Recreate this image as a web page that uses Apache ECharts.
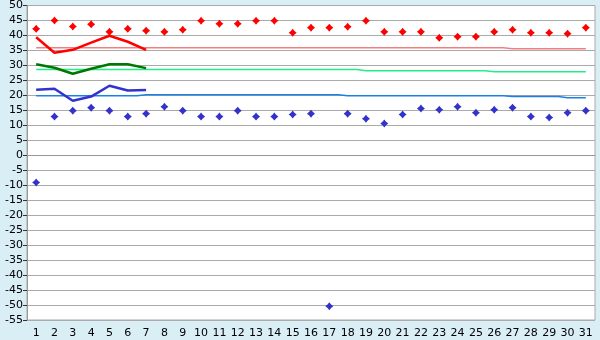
<!DOCTYPE html>
<html>
<head>
<meta charset="utf-8">
<script src="https://cdn.jsdelivr.net/npm/echarts@6/dist/echarts.min.js"></script>
<style>
  html, body { margin: 0; padding: 0; background: #daeef6; }
  #chart { width: 600px; height: 340px; }
</style>
</head>
<body>
<div id="chart"></div>
<script>
const days = Array.from({ length: 31 }, (_, i) => String(i + 1));

// daily extremes (diamonds)
const maxPoints = [42.2, 45, 43, 43.7, 41.2, 42.2, 41.6, 41.2, 41.9, 44.9, 43.9, 43.9, 44.9, 44.9, 40.9, 42.6,
  42.6, 42.9, 44.9, 41.2, 41.2, 41.2, 39.2, 39.6, 39.6, 41.2, 41.9, 40.9, 40.9, 40.6, 42.6];
const minPoints = [-9.1, 12.9, 14.9, 15.9, 14.9, 12.9, 13.9, 16.2, 14.9, 12.9, 12.9, 14.9, 12.9, 12.9, 13.6, 13.9,
  -50.4, 13.9, 12.2, 10.6, 13.6, 15.6, 15.2, 16.2, 14.2, 15.2, 15.9, 12.9, 12.6, 14.2, 14.9];

// measured curves, first week only
const redLine = [39.4, 34.2, 35.2, 37.6, 39.9, 37.9, 35.2];
const greenLine = [30.4, 29.2, 27.2, 28.9, 30.4, 30.4, 29.1];
const blueLine = [21.9, 22.2, 18.2, 19.6, 23.2, 21.6, 21.8];

// reference (normal) levels per day
const redRef = [35.9, 35.9, 35.9, 35.9, 35.9, 35.9, 35.9, 35.9, 35.9, 35.9, 35.9, 35.9, 35.9, 35.9, 35.9, 35.9,
  35.9, 35.9, 35.9, 35.9, 35.9, 35.9, 35.9, 35.9, 35.9, 35.9, 35.6, 35.6, 35.6, 35.6, 35.6];
const greenRef = [28.6, 28.6, 28.6, 28.6, 28.6, 28.6, 28.6, 28.6, 28.6, 28.6, 28.6, 28.6, 28.6, 28.6, 28.6, 28.6,
  28.6, 28.6, 28.2, 28.2, 28.2, 28.2, 28.2, 28.2, 28.2, 27.9, 27.9, 27.9, 27.9, 27.9, 27.9];
const blueRef = [19.9, 19.9, 19.9, 19.9, 19.9, 19.9, 20.2, 20.2, 20.2, 20.2, 20.2, 20.2, 20.2, 20.2, 20.2, 20.2,
  20.2, 19.9, 19.9, 19.9, 19.9, 19.9, 19.9, 19.9, 19.9, 19.9, 19.6, 19.6, 19.6, 19.2, 19.2];

const chart = echarts.init(document.getElementById('chart'));

// small chunky plus-like diamond used by the original
const markPath = 'path://M0,-4 L1.8,-1.8 L4,0 L1.8,1.8 L0,4 L-1.8,1.8 L-4,0 L-1.8,-1.8 Z';

const refSeries = (data, color) => ({
  type: 'line', data, step: 'middle', symbol: 'none', silent: true,
  lineStyle: { color, width: 1.5 }, z: 2
});
const curve = (data, color) => ({
  type: 'line', data, symbol: 'none', silent: true,
  lineStyle: { color, width: 2.5 }, z: 3
});
const dots = (data, color) => ({
  type: 'scatter', data, symbol: markPath, symbolSize: 8,
  itemStyle: { color, opacity: 1 }, z: 4
});

chart.setOption({
  animation: false,
  backgroundColor: '#daeef6',
  textStyle: { fontFamily: 'DejaVu Sans' },
  grid: {
    left: 27, right: 5, top: 5, bottom: 20,
    show: true, backgroundColor: '#fff', borderColor: '#aaa', borderWidth: 1
  },
  xAxis: {
    type: 'category',
    data: days,
    boundaryGap: true,
    axisLine: { lineStyle: { color: '#999' } },
    axisTick: { alignWithLabel: true, interval: 0, length: 5, lineStyle: { color: '#333' } },
    axisLabel: { interval: 0, color: '#000', fontSize: 11, margin: 8 },
    splitLine: { show: false }
  },
  yAxis: {
    type: 'value',
    min: -55, max: 50, interval: 5,
    axisLine: { show: true, lineStyle: { color: '#999' } },
    axisTick: { show: true, length: 4, lineStyle: { color: '#333' } },
    axisLabel: { color: '#000', fontSize: 11, margin: 4 },
    splitLine: { lineStyle: { color: '#aaa', width: 1 } }
  },
  series: [
    refSeries(redRef, '#f08080'),
    refSeries(greenRef, '#22ee88'),
    refSeries(blueRef, '#1a80e6'),
    curve(redLine, '#ff0000'),
    curve(greenLine, '#007700'),
    curve(blueLine, '#3333cc'),
    dots(maxPoints, '#ff0000'),
    dots(minPoints, '#3333cc')
  ]
});
</script>
</body>
</html>
